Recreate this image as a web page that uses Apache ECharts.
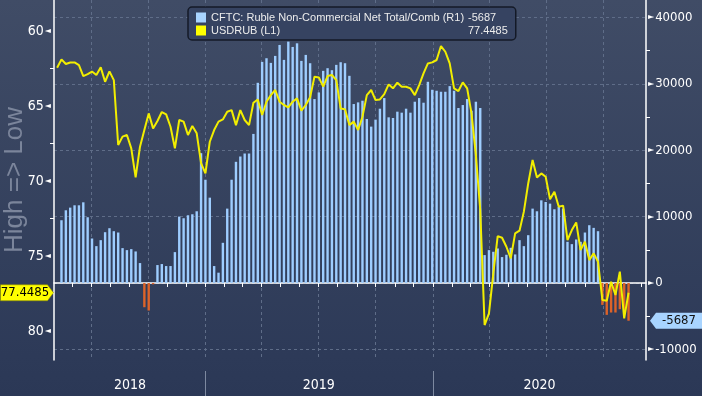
<!DOCTYPE html>
<html><head><meta charset="utf-8">
<script src="https://cdn.jsdelivr.net/npm/echarts@6/dist/echarts.min.js"></script>
<style>html,body{margin:0;padding:0;background:#2c3957}#c{width:702px;height:396px}</style>
</head><body><div id="c"></div>
<script>
// ---- data ----
const cftcName = 'CFTC: Ruble Non-Commercial Net Total/Comb (R1)';
const rubName = 'USDRUB (L1)';
const firstWeek = [2018, 4, 8];           // weekly observations (Tuesdays) from 2018-05-08
const usdrub = [62.45,61.89,62.2,62.1,62.09,62.27,63.0,62.87,62.7,62.93,62.42,63.38,62.69,63.27,
  67.6,67.04,66.93,67.82,69.76,67.71,66.6,65.49,66.49,66.0,65.4,65.56,66.38,67.82,65.93,66.04,66.93,66.33,66.82,68.8,
  69.49,67.38,66.6,66.04,65.89,65.38,65.27,66.27,65.27,65.93,66.27,64.78,64.56,65.6,64.71,64.27,63.93,64.71,64.93,65.09,64.71,64.49,65.31,64.93,64.42,63.04,63.09,63.71,63.0,62.93,63.27,65.16,65.22,
  66.27,66.04,66.6,65.71,64.27,63.93,64.6,64.56,64.2,63.56,63.82,63.44,63.71,63.71,63.82,64.27,63.6,62.82,62.16,62.09,61.93,61.0,61.38,62.16,63.82,64.0,63.42,63.82,65.49,68.27,71.93,79.6,78.82,
  76.16,73.67,73.78,74.38,75.16,73.49,73.31,72.04,70.16,68.6,69.76,69.49,69.71,71.22,70.71,71.71,71.64,73.93,73.27,72.76,74.6,74.04,75.27,74.82,75.38,77.93,77.98,76.71,77.6,76.04,79.16,77.4485];
const cftcNet = [null,
  9450,10950,11350,11700,11700,12150,9900,6700,5550,6450,7650,8250,7800,7600,5250,4950,5100,4750,3000,-3650,-4150,-200,2700,2850,2550,2550,4650,10000,9750,10200,10350,10800,19550,
  15550,12850,2550,1550,6050,11200,15550,18250,19050,19500,19500,22450,30150,33300,33850,33150,34200,35850,33600,36350,35550,36100,33450,34350,33100,27700,28700,31950,32350,32050,32850,33250,33100,
  31200,26950,27200,27450,24700,23550,24600,26250,27850,24950,24850,25800,25650,26250,25650,27300,27850,27150,30300,29100,28950,28800,28800,29650,28950,26350,26800,27700,25950,27300,26350,4200,4950,
  4700,5200,3900,4250,5300,4300,6450,5550,7200,11200,10800,12450,12200,11950,11100,11450,11200,6200,5850,6550,6200,7600,8700,8300,7800,-3300,-4800,-4450,-4450,-3950,-4650,-5687];
const leftTicks = [60, 65, 70, 75, 80];
const leftMinorTicks = [62.5, 67.5, 72.5, 77.5];
const rightTicks = [-10000, 0, 10000, 20000, 30000, 40000];
const rightMinorTicks = [-5000, 5000, 15000, 25000, 35000];
const quarterStarts = ['2018-07-01','2018-10-01','2019-01-01','2019-04-01','2019-07-01','2019-10-01','2020-01-01','2020-04-01','2020-07-01','2020-10-01'];
const yearLabels = ['2018', '2019', '2020'];
const yearLabelAt = ['2018-09-02', '2019-07-02', '2020-06-20'];
const yearBreaks = ['2019-01-01', '2020-01-01'];
const xStart = '2018-05-03', xEnd = '2020-12-08';

// ---- build ----
const ts = s => { const p = s.split('-').map(Number); return new Date(p[0], p[1]-1, p[2]).getTime(); };
const dates = usdrub.map((_, i) => new Date(firstWeek[0], firstWeek[1], firstWeek[2] + 7*i).getTime());
const monthTicks = [];
for (let y = 2018, m = 5; ; m++) { if (m > 11) { m = 0; y++; } if (y > 2020 || (y === 2020 && m > 11)) break; monthTicks.push(new Date(y, m, 1).getTime()); }
const xMin = ts(xStart), xMax = ts(xEnd);
const yearLabelTs = yearLabelAt.map(ts);
const lastRub = usdrub[usdrub.length-1], lastCftc = cftcNet[cftcNet.length-1];
const FONT = "'Liberation Sans Narrow','DejaVu Sans Condensed','Liberation Sans',sans-serif";
const AX = '#ffffff';

const chart = echarts.init(document.getElementById('c'), null, {renderer: 'canvas'});
const xCommon = {type: 'value', min: xMin, max: xMax, position: 'bottom', gridIndex: 0};
chart.setOption({
  animation: false,
  backgroundColor: {type: 'linear', x: 0, y: 0, x2: 0, y2: 1,
    colorStops: [{offset: 0, color: '#404c66'}, {offset: 0.9, color: '#2d3a58'}, {offset: 1, color: '#2b3856'}]},
  grid: {left: 54, right: 56, top: 0, bottom: 36, containLabel: false, outerBoundsMode: 'none'},
  legend: {
    left: 188, top: 7, orient: 'vertical', icon: 'rect', itemWidth: 10, itemHeight: 10, itemGap: 2,
    padding: [5, 8, 4, 8], backgroundColor: '#364361', borderColor: '#141a27', borderWidth: 1.5, borderRadius: 4,
    data: [{name: cftcName, itemStyle: {color: '#a8d4ff'}}, {name: rubName, itemStyle: {color: '#ffff00'}}],
    formatter: n => `{n|${n}}{v|${n === cftcName ? lastCftc : lastRub}}`,
    textStyle: {color: '#ececec', fontSize: 11, fontFamily: 'Liberation Sans',
      rich: {n: {width: 257, fontSize: 11, lineHeight: 14, fontFamily: 'Liberation Sans', color: '#ececec'},
             v: {width: 38, fontSize: 11, lineHeight: 14, fontFamily: 'Liberation Sans', color: '#ececec'}}}
  },
  xAxis: [
    Object.assign({}, xCommon, {
      axisLine: {show: true, lineStyle: {color: AX, width: 1.5}},
      axisTick: {show: false, customValues: quarterStarts.map(ts)},
      axisLabel: {show: false},
      splitLine: {show: true, lineStyle: {color: '#5f6d88', type: [3, 3], width: 1}}
    }),
    Object.assign({}, xCommon, {
      axisLine: {show: false},
      axisTick: {show: true, customValues: monthTicks, length: 4, lineStyle: {color: AX, width: 1}},
      axisLabel: {show: false}, splitLine: {show: false}
    }),
    Object.assign({}, xCommon, {
      offset: 11,
      axisLine: {show: false},
      axisTick: {show: true, customValues: yearBreaks.map(ts), length: 27, lineStyle: {color: '#7d89a0', width: 1}},
      axisLabel: {show: true, customValues: yearLabelTs, margin: 7, color: '#ffffff', fontSize: 14, fontFamily: FONT,
        formatter: v => yearLabels[yearLabelTs.indexOf(v)] || ''},
      splitLine: {show: false}
    })
  ],
  yAxis: [
    {type: 'value', position: 'left', inverse: true, min: 57.93, max: 81.93,
      name: 'High => Low', nameLocation: 'middle', nameRotate: 90, nameGap: 26, nameMoveOverlap: false,
      nameTextStyle: {color: '#7b859b', fontSize: 26, fontFamily: 'Liberation Sans'},
      axisLine: {show: true, lineStyle: {color: AX, width: 1.5}},
      axisTick: {show: true, customValues: leftMinorTicks, length: 4, lineStyle: {color: AX}},
      axisLabel: {show: true, customValues: leftTicks, margin: 3,
        formatter: v => `{t|${v}}{a|◄}`,
        rich: {t: {color: '#ffffff', fontSize: 14, fontFamily: FONT}, a: {color: '#ffffff', fontSize: 8, fontFamily: 'DejaVu Sans', padding: [0, 0, 0, 1]}}},
      splitLine: {show: false}},
    {type: 'value', position: 'right', min: -11600, max: 42620,
      axisLine: {show: true, lineStyle: {color: AX, width: 1.5}},
      axisTick: {show: true, customValues: rightMinorTicks, length: 4, lineStyle: {color: AX}},
      axisLabel: {show: true, customValues: rightTicks, margin: 2,
        formatter: v => `{a|►}{t|${v}}`,
        rich: {t: {color: '#ffffff', fontSize: 13, fontFamily: FONT}, a: {color: '#ffffff', fontSize: 8, fontFamily: 'DejaVu Sans', padding: [0, 1, 0, 0]}}},
      splitLine: {show: false}},
    {type: 'value', position: 'right', min: -11600, max: 42620,
      axisLine: {show: false}, axisLabel: {show: false},
      axisTick: {show: false, customValues: rightTicks},
      splitLine: {show: true, lineStyle: {color: '#5f6d88', type: [3, 3], width: 1}}}
  ],
  series: [
    {name: cftcName, type: 'bar', xAxisIndex: 0, yAxisIndex: 1, barWidth: 2.4, z: 2,
      data: dates.map((d, i) => [d, cftcNet[i]]),
      itemStyle: {color: p => (p.value[1] < 0 ? '#dd6329' : '#9ecdff')},
      markPoint: {symbol: 'path://M6,0 L52,0 L52,16 L6,16 L0,8 Z', symbolSize: [52, 16], symbolOffset: [30, 0],
        itemStyle: {color: '#a8d4ff'},
        label: {show: true, color: '#111', fontSize: 13, fontFamily: FONT, offset: [3, 0], formatter: String(lastCftc)},
        data: [{coord: [xMax, lastCftc], value: lastCftc}]}},
    {name: rubName, type: 'line', xAxisIndex: 0, yAxisIndex: 0, z: 3, symbol: 'none',
      data: dates.map((d, i) => [d, usdrub[i]]),
      lineStyle: {color: '#f2ee00', width: 2}, itemStyle: {color: '#ffff00'},
      markPoint: {symbol: 'path://M0,0 L47,0 L53,8 L47,16 L0,16 Z', symbolSize: [53, 16], symbolOffset: [-27, 0],
        itemStyle: {color: '#ffff00', borderColor: '#8a8a00', borderWidth: 0.5},
        label: {show: true, color: '#000', fontSize: 13, fontFamily: FONT, offset: [-2, 0], formatter: String(lastRub)},
        data: [{coord: [xMin, lastRub], value: lastRub}]}}
  ]
});
</script></body></html>
